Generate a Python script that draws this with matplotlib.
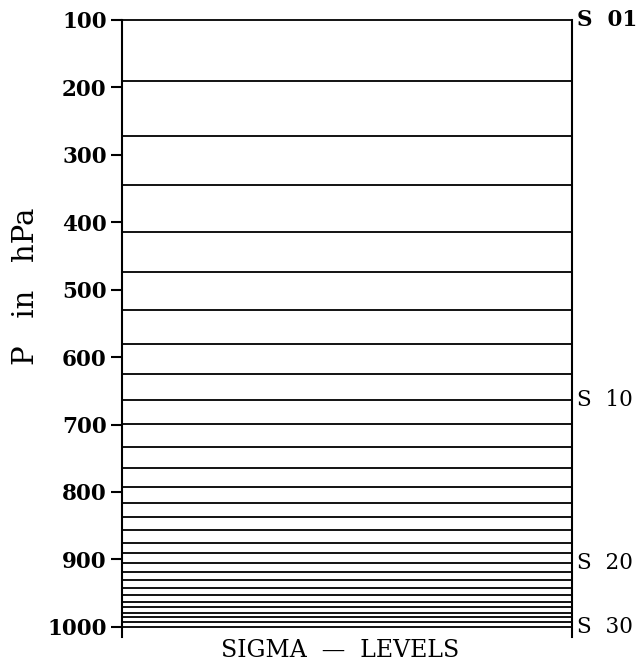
import matplotlib
matplotlib.use("Agg")
import matplotlib.pyplot as plt
import matplotlib.transforms as mtransforms

# Sigma levels S01..S30 (pressure in hPa)
levels = [100, 190, 272, 345, 414, 474, 530, 581, 625, 664,
          699, 734, 765, 793, 817, 837, 857, 876, 891, 905,
          919, 931, 942, 953, 963, 971, 979, 986, 993, 1000]
yticks = [100, 200, 300, 400, 500, 600, 700, 800, 900, 1000]
labelled = {0: "S  01", 9: "S  10", 19: "S  20", 29: "S  30"}

serif = ["DejaVu Serif"]

fig = plt.figure(figsize=(6.44, 6.64), dpi=100)
ax = fig.add_axes([0.1894, 0.0407, 0.6988, 0.9292])

ax.hlines(levels, 0, 1, colors="black", linewidth=1.3, clip_on=False)
ax.set_xlim(0, 1)
ax.set_ylim(1015, 100)

for s in ["top", "bottom"]:
    ax.spines[s].set_visible(False)
for s in ["left", "right"]:
    ax.spines[s].set_linewidth(1.5)

ax.set_xticks([])
ax.set_yticks(yticks)
ax.set_yticklabels([str(t) for t in yticks], fontfamily=serif,
                   fontweight="bold", fontsize=15.5)
ax.tick_params(axis="y", direction="out", length=8, width=1.5, pad=3)

trans = mtransforms.blended_transform_factory(ax.transAxes, ax.transData)
for i, txt in labelled.items():
    ax.text(1.012, levels[i], txt, transform=trans, ha="left", va="center",
            fontfamily=serif, fontweight="bold" if i == 0 else "normal",
            fontsize=15.5)

fig.text(0.040, 0.569, "P   in   hPa", rotation=90, ha="center", va="center",
         fontfamily=serif, fontsize=21)
fig.text(0.528, 0.020, "SIGMA  \u2014  LEVELS", ha="center", va="center",
         fontfamily=serif, fontsize=17)

fig.savefig("out.png", dpi=100)
